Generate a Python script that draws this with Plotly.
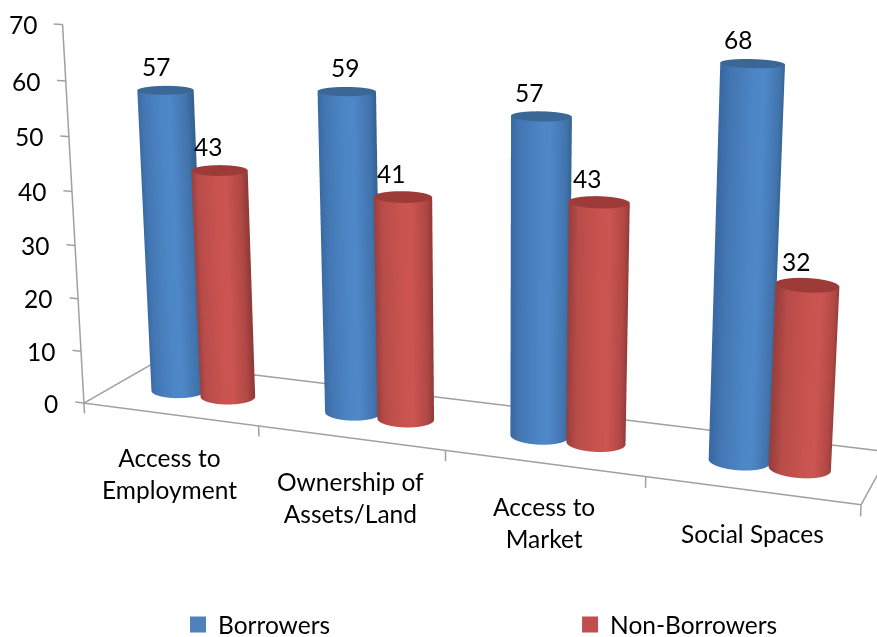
import numpy as np
import plotly.graph_objects as go

categories = ["Access to<br>Employment", "Ownership of<br>Assets/Land", "Access to<br>Market", "Social Spaces"]
borrowers = [57, 59, 57, 68]
non_borrowers = [43, 41, 43, 32]
value_ticks = [0, 10, 20, 30, 40, 50, 60, 70]

FONT = "Lato"
FONT_SIZE = 24.5
W, H = 877, 637

# Chart space: X runs along the categories (0..4), Y from the front to the back
# of the floor (0..1), Z is the value. These rows carry it into scene units.
SCENE_X = (0.480919, 0.141160, -0.0000691, -1.032418)
SCENE_Y = (-0.085215, 0.160764, 0.0074767, 0.090048)
Z_UNIT = 0.0117606
EYE = (-0.086891, -1.377840, 1.035447)
CENTER = (-0.086891, 0.189844, -0.206474)
UP = (0.002864, 0.620958, 0.783839)
Z_RANGE = (-5, 75)

OFFSET = 0.1446   # half the spacing of a category's two cylinders
DEPTH = 0.4857    # where the cylinders stand on the floor
RX, RY = 0.145, 0.17
SHADE_TURN = 0.38  # angle at which the side shading is centred on the viewer

# horizontal nudges of the labels, in pixels
BORROWER_NUDGE = [-9, -2, -12, -15]
NON_BORROWER_NUDGE = [-12, -12, -12, -11]
CATEGORY_NUDGE = [0, 0, 0, 1]


def chart(X, Y, Z):
    X, Y, Z = np.asarray(X, float), np.asarray(Y, float), np.asarray(Z, float)
    sx = SCENE_X[0] * X + SCENE_X[1] * Y + SCENE_X[2] * Z + SCENE_X[3]
    sy = SCENE_Y[0] * X + SCENE_Y[1] * Y + SCENE_Y[2] * Z + SCENE_Y[3]
    return sx, sy, Z


BLUE = [[0, "#3a6aa5"], [.12, "#4377b3"], [.45, "#4d86c6"], [.6, "#4f88c9"], [.88, "#4274ae"], [1, "#33618f"]]
RED = [[0, "#9a3f3d"], [.12, "#b84c49"], [.45, "#c9534f"], [.62, "#cc5551"], [.88, "#b04845"], [1, "#8f3937"]]
FLAT = dict(ambient=1, diffuse=0, specular=0, fresnel=0, roughness=1)

fig = go.Figure()


def cylinder(Xc, Yc, value, scale, cap):
    th = np.linspace(0, 2 * np.pi, 121)
    zz = np.array([[0.0] * len(th), [float(value)] * len(th)])
    xx, yy, _ = chart(np.tile(Xc + RX * np.cos(th), (2, 1)), np.tile(Yc + RY * np.sin(th), (2, 1)), zz)
    fig.add_trace(go.Surface(x=xx, y=yy, z=zz, surfacecolor=np.tile(np.cos(th - SHADE_TURN), (2, 1)), cmin=-1, cmax=1,
                             colorscale=scale, showscale=False, lighting=FLAT, hoverinfo="skip", showlegend=False))
    rr = np.array([0, 1.0])
    X2 = Xc + np.outer(rr, RX * np.cos(th))
    Y2 = Yc + np.outer(rr, RY * np.sin(th))
    Z2 = np.full_like(X2, float(value))
    xx, yy, _ = chart(X2, Y2, Z2)
    fig.add_trace(go.Surface(x=xx, y=yy, z=Z2, surfacecolor=np.zeros_like(X2), cmin=0, cmax=1,
                             colorscale=[[0, cap], [1, cap]], showscale=False, lighting=FLAT,
                             hoverinfo="skip", showlegend=False))


for i in range(len(categories)):
    cylinder(i + .5 - OFFSET, DEPTH, borrowers[i], BLUE, "#3a6796")
    cylinder(i + .5 + OFFSET, DEPTH, non_borrowers[i], RED, "#9c3b38")


def segment(a, b):
    xs, ys, zs = chart([a[0], b[0]], [a[1], b[1]], [a[2], b[2]])
    fig.add_trace(go.Scatter3d(x=xs, y=ys, z=zs, mode="lines", line=dict(color="#a0a0a0", width=3),
                               hoverinfo="skip", showlegend=False))


# floor outline, value axis and tick marks
segment((0, 0, 0), (4, 0, 0))
segment((0, 1, 0), (4, 1, 0))
segment((0, 0, 0), (0, 1, 0))
segment((4, 0, 0), (4, 1, 0))
segment((0, 0, 0), (0, 0, 70))
for t in value_ticks:
    segment((0, 0, t), (-.05, 0, t))
for t in range(5):
    segment((t, 0, 0), (t, 0, -2))

notes = []


def label(X, Y, Z, text, **kw):
    x, y, z = chart(X, Y, Z)
    notes.append(dict(x=float(x), y=float(y), z=float(z), text=text, showarrow=False,
                      font=dict(family=FONT, size=FONT_SIZE, color="#000"), **kw))


for i in range(len(categories)):
    label(i + .5 - OFFSET, DEPTH, borrowers[i], str(borrowers[i]), xshift=BORROWER_NUDGE[i], yshift=24)
    label(i + .5 + OFFSET, DEPTH, non_borrowers[i], str(non_borrowers[i]), xshift=NON_BORROWER_NUDGE[i], yshift=24)
    label(i + .5, 0, 0, categories[i], yanchor="top", xshift=CATEGORY_NUDGE[i], yshift=-27)
for t in value_ticks:
    label(0, 0, t, str(t), xanchor="right", xshift=-24)

for name, color, lg in (("Borrowers", "#4f81bd", "legend"), ("Non-Borrowers", "#c0504d", "legend2")):
    fig.add_trace(go.Scatter3d(x=[None], y=[None], z=[None], mode="markers", name=name,
                               marker=dict(symbol="square", size=16, color=color), legend=lg, showlegend=True))

xs, ys = [], []
for t in fig.data:
    if t.x[0] is not None:
        xs.append(np.abs(np.asarray(t.x, float)).max())
        ys.append(np.abs(np.asarray(t.y, float)).max())
XR, YR = max(xs) * 1.1, max(ys) * 1.1

hidden = dict(visible=False, showspikes=False)
legend_font = dict(family=FONT, size=FONT_SIZE)
fig.update_layout(
    width=W, height=H, margin=dict(l=0, r=0, t=0, b=0, autoexpand=False), paper_bgcolor="white",
    font=dict(family=FONT, size=FONT_SIZE, color="#000"),
    scene=dict(
        domain=dict(x=[0, 1], y=[0, 1]), bgcolor="white", aspectmode="manual",
        aspectratio=dict(x=2 * XR, y=2 * YR, z=Z_UNIT * (Z_RANGE[1] - Z_RANGE[0])),
        xaxis=dict(range=[-XR, XR], **hidden),
        yaxis=dict(range=[-YR, YR], **hidden),
        zaxis=dict(range=list(Z_RANGE), **hidden),
        camera=dict(eye=dict(x=EYE[0], y=EYE[1], z=EYE[2]),
                    center=dict(x=CENTER[0], y=CENTER[1], z=CENTER[2]),
                    up=dict(x=UP[0], y=UP[1], z=UP[2]),
                    projection=dict(type="perspective")),
        annotations=notes),
    legend=dict(x=.203, y=-.016, xanchor="left", yanchor="bottom", font=legend_font, bgcolor="rgba(0,0,0,0)"),
    legend2=dict(x=.65, y=-.016, xanchor="left", yanchor="bottom", font=legend_font, bgcolor="rgba(0,0,0,0)"),
)
fig.write_html("out.html")
